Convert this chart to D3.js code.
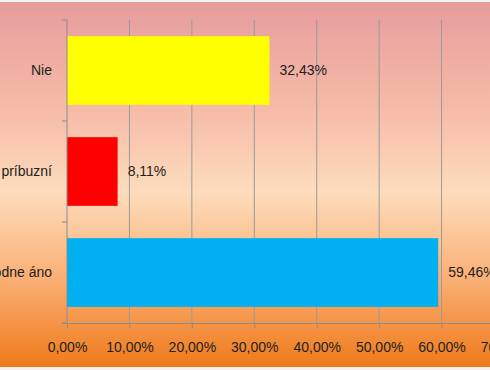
<!DOCTYPE html>
<html>
<head>
<meta charset="utf-8">
<script src="https://d3js.org/d3.v7.min.js"></script>
<style>
  html, body { margin: 0; padding: 0; background: #f2f2f2; }
  svg { display: block; }
  text { font-family: "Liberation Sans", Arial, sans-serif; fill: #1e1e1e; }
</style>
</head>
<body>
<svg id="chart" width="490" height="370"></svg>
<script>
// data
var categories = ["Nie", "Iba príbuzní", "Rozhodne áno"];
var values = [0.3243, 0.0811, 0.5946];
var barColors = ["#ffff00", "#ff0000", "#00b0f0"];
var tickValues = [0, 0.1, 0.2, 0.3, 0.4, 0.5, 0.6, 0.7];

var fmt = function(v) { return (v * 100).toFixed(2).replace(".", ",") + "%"; };

var svg = d3.select("#chart");
var W = 490, H = 370;

// background gradient
var grad = svg.append("defs").append("linearGradient")
  .attr("id", "bg").attr("x1", 0).attr("y1", 0).attr("x2", 0).attr("y2", 1);
grad.append("stop").attr("offset", "0%").attr("stop-color", "#e69d9d");
grad.append("stop").attr("offset", "30%").attr("stop-color", "#f6bca8");
grad.append("stop").attr("offset", "52%").attr("stop-color", "#fddcbc");
grad.append("stop").attr("offset", "75%").attr("stop-color", "#fab178");
grad.append("stop").attr("offset", "100%").attr("stop-color", "#ef7a1a");

svg.append("rect").attr("x", 0).attr("y", 2).attr("width", W).attr("height", 365)
  .attr("fill", "url(#bg)");

var x = d3.scaleLinear().domain([0, 0.7]).range([67, 504]);
var y = d3.scaleBand().domain(categories).range([20, 323]).paddingInner(0.32).paddingOuter(0.16);

// gridlines
svg.append("g").selectAll("line").data(tickValues.slice(1)).enter().append("line")
  .attr("x1", function(d) { return x(d); }).attr("x2", function(d) { return x(d); })
  .attr("y1", 20).attr("y2", 323)
  .attr("stroke", "#9a9a9a").attr("stroke-width", 1);

// bars
svg.append("g").selectAll("rect").data(categories).enter().append("rect")
  .attr("x", x(0))
  .attr("y", function(d) { return y(d); })
  .attr("width", function(d, i) { return x(values[i]) - x(0); })
  .attr("height", y.bandwidth())
  .attr("fill", function(d, i) { return barColors[i]; });

// value labels
svg.append("g").selectAll("text").data(categories).enter().append("text")
  .attr("x", function(d, i) { return x(values[i]) + 10; })
  .attr("y", function(d) { return y(d) + y.bandwidth() / 2; })
  .attr("dy", "0.35em")
  .attr("font-size", "14px")
  .text(function(d, i) { return fmt(values[i]); });

// x axis
var xAxis = svg.append("g").attr("transform", "translate(0,323)")
  .call(d3.axisBottom(x).tickValues(tickValues).tickFormat(fmt).tickSize(5).tickPadding(14));
xAxis.select(".domain").attr("stroke", "#8c8c8c").attr("d", "M62,0.5H504");
xAxis.selectAll(".tick line").attr("stroke", "#8c8c8c");
xAxis.selectAll(".tick text").attr("font-size", "14px")
  .attr("font-family", "Liberation Sans, Arial, sans-serif").attr("fill", "#1e1e1e");

// y axis
var yScaleLine = d3.scaleLinear().domain([0, 3]).range([20, 323]);
var yg = svg.append("g");
yg.append("line").attr("x1", 67).attr("x2", 67).attr("y1", 20).attr("y2", 323)
  .attr("stroke", "#8c8c8c");
yg.selectAll(".yt").data([0, 1, 2, 3]).enter().append("line")
  .attr("x1", 62).attr("x2", 67)
  .attr("y1", function(d) { return yScaleLine(d); }).attr("y2", function(d) { return yScaleLine(d); })
  .attr("stroke", "#8c8c8c");
yg.selectAll("text").data(categories).enter().append("text")
  .attr("x", 52)
  .attr("y", function(d) { return y(d) + y.bandwidth() / 2; })
  .attr("dy", "0.35em")
  .attr("text-anchor", "end")
  .attr("font-size", "14px")
  .text(function(d) { return d; });
</script>
</body>
</html>
